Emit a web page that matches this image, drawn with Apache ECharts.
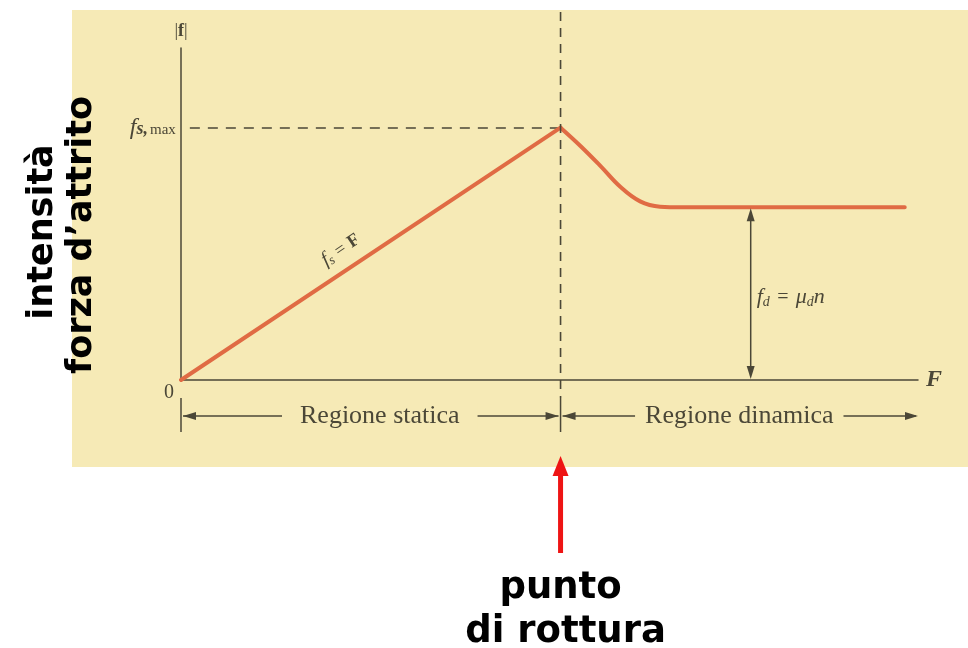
<!DOCTYPE html>
<html>
<head>
<meta charset="utf-8">
<script src="https://cdn.jsdelivr.net/npm/echarts@6/dist/echarts.min.js"></script>
<style>
  html, body { margin: 0; padding: 0; background: #ffffff; }
  #chart { width: 968px; height: 648px; }
</style>
</head>
<body>
<div id="chart"></div>
<script>
// forza applicata F e intensità |f| in unità relative (0..100)
var staticLine = [[0, 0], [51.5, 76]];
var dynamicLine = [[51.5, 76], [54.2, 70.5], [56.9, 64.5], [59.6, 58.2], [62.3, 53.8], [65, 52.2], [68, 52], [98.2, 52]];
var breakX = 51.5;
var fsMax = 76;
var fdLevel = 52;
var fdArrowX = 77.3;
var axisMax = [100, 100];
var regionLabels = ['Regione statica', 'Regione dinamica'];
var sideTitle = ['intensità', 'forza d\u2019attrito'];
var breakTitle = ['punto', 'di rottura'];

var ink = '#4b4737';
var beige = '#f6eab6';
var curve = '#e06b44';
var serif = '"Liberation Serif", "DejaVu Serif", serif';
var sans = '"DejaVu Sans", sans-serif';

var chart = echarts.init(document.getElementById('chart'));
chart.setOption({
  animation: false,
  backgroundColor: '#ffffff',
  grid: { left: 181, top: 48, width: 737, height: 332 },
  xAxis: {
    type: 'value', min: 0, max: axisMax[0],
    name: 'F', nameLocation: 'end', nameGap: 8,
    nameTextStyle: { fontFamily: serif, fontStyle: 'italic', fontWeight: 'bold', fontSize: 24, color: ink, verticalAlign: 'middle' },
    axisLine: { lineStyle: { color: ink, width: 1.5 } },
    axisTick: { show: false }, axisLabel: { show: false }, splitLine: { show: false }
  },
  yAxis: {
    type: 'value', min: 0, max: axisMax[1],
    name: '{n||}{b|f}{n||}', nameLocation: 'end', nameGap: 8,
    nameTextStyle: {
      rich: {
        n: { fontFamily: serif, fontSize: 18, color: ink },
        b: { fontFamily: serif, fontSize: 18, fontWeight: 'bold', color: ink }
      }
    },
    axisLine: { lineStyle: { color: ink, width: 1.5 } },
    axisTick: { show: false }, axisLabel: { show: false }, splitLine: { show: false }
  },
  series: [
    {
      type: 'line', data: staticLine, symbol: 'none', z: 5,
      lineStyle: { color: curve, width: 4, cap: 'round' },
      markLine: {
        silent: true, symbol: 'none', animation: false,
        lineStyle: { color: ink, width: 1.5, type: [10, 8] },
        label: {
          position: 'start', distance: 14,
          formatter: '{i|f}{s|s,}{m|max}',
          rich: {
            i: { fontFamily: serif, fontStyle: 'italic', fontSize: 24, color: ink },
            s: { fontFamily: serif, fontStyle: 'italic', fontWeight: 'bold', fontSize: 18, color: ink, padding: [4, 2, 0, 0] },
            m: { fontFamily: serif, fontSize: 15, color: ink, padding: [4, 0, 0, 0] }
          }
        },
        data: [[{ coord: [1.2, fsMax] }, { coord: [breakX, fsMax] }]]
      }
    },
    {
      type: 'line', data: dynamicLine, symbol: 'none', z: 5,
      smooth: 0.4,
      lineStyle: { color: curve, width: 4, cap: 'round' }
    }
  ]
});

var px = function (p) { return chart.convertToPixel({ gridIndex: 0 }, p); };
var o = px([0, 0]);
var pk = px([breakX, fsMax]);
var xEnd = px([axisMax[0], 0]);
var flat = px([fdArrowX, fdLevel]);

function head(x, y, ang, len, w, color) {
  var c = Math.cos(ang), s = Math.sin(ang);
  return {
    type: 'polygon', z: 20,
    shape: { points: [[x, y], [x - len * c + w * s, y - len * s - w * c], [x - len * c - w * s, y - len * s + w * c]] },
    style: { fill: color }
  };
}
function seg(x1, y1, x2, y2, w, color, dash) {
  return {
    type: 'line', z: 15,
    shape: { x1: x1, y1: y1, x2: x2, y2: y2 },
    style: { stroke: color, lineWidth: w, lineDash: dash || null }
  };
}
function txt(x, y, text, font, opts) {
  var st = { text: text, x: 0, y: 0, font: font, fill: ink, align: 'center', verticalAlign: 'middle' };
  for (var k in (opts || {})) st[k] = opts[k];
  return { type: 'text', z: 25, x: x, y: y, style: st };
}

var ry = o[1] + 36;
var els = [];
els.push({ type: 'rect', z: -10, shape: { x: 72, y: 10, width: 896, height: 457 }, style: { fill: beige } });
// linea tratteggiata verticale al punto di rottura
els.push(seg(pk[0], 12, pk[0], o[1] + 18, 1.6, ink, [9, 7]));
// frecce delle regioni
els.push(seg(o[0], o[1] + 18, o[0], o[1] + 52, 1.5, ink));
els.push(seg(pk[0], o[1] + 18, pk[0], o[1] + 52, 1.5, ink));
els.push(seg(o[0] + 2, ry, pk[0] - 2, ry, 1.5, ink));
els.push(seg(pk[0] + 2, ry, xEnd[0] - 2, ry, 1.5, ink));
els.push(head(o[0] + 2, ry, Math.PI, 13, 4, ink));
els.push(head(pk[0] - 2, ry, 0, 13, 4, ink));
els.push(head(pk[0] + 2, ry, Math.PI, 13, 4, ink));
els.push(head(xEnd[0], ry, 0, 13, 4, ink));
els.push(txt((o[0] + pk[0]) / 2 + 9, ry, regionLabels[0], '26px ' + serif, { backgroundColor: beige, padding: [0, 18] }));
els.push(txt((pk[0] + xEnd[0]) / 2, ry, regionLabels[1], '26px ' + serif, { backgroundColor: beige, padding: [0, 10] }));
// freccia doppia f_d
els.push(seg(flat[0], flat[1] + 10, flat[0], o[1] - 10, 1.5, ink));
els.push(head(flat[0], flat[1] + 1, -Math.PI / 2, 13, 4, ink));
els.push(head(flat[0], o[1] - 1, Math.PI / 2, 13, 4, ink));
els.push({
  type: 'text', z: 25, x: flat[0] + 6, y: (flat[1] + o[1]) / 2 + 4,
  style: {
    text: '{i|f}{s|d} {e|=} {i|\u03bc}{s|d}{i|n}', fill: ink, align: 'left', verticalAlign: 'middle',
    rich: {
      i: { fontFamily: serif, fontStyle: 'italic', fontSize: 22, fill: ink },
      s: { fontFamily: serif, fontStyle: 'italic', fontSize: 14, fill: ink, padding: [9, 0, 0, 0] },
      e: { fontFamily: serif, fontSize: 20, fill: ink, padding: [0, 4] }
    }
  }
});
// etichette
els.push(txt(o[0] - 12, o[1] + 13, '0', '20px ' + serif));
var ang = Math.atan2(pk[1] - o[1], pk[0] - o[0]);
var t = 0.45;
var lx = o[0] + t * (pk[0] - o[0]) + 20 * Math.sin(ang);
var ly = o[1] + t * (pk[1] - o[1]) - 20 * Math.cos(ang);
els.push({
  type: 'text', z: 25, x: lx, y: ly, rotation: -ang,
  style: {
    text: '{i|f}{s|s} {e|=} {b|F}', align: 'center', verticalAlign: 'middle',
    rich: {
      i: { fontFamily: serif, fontStyle: 'italic', fontSize: 20, fill: ink },
      s: { fontFamily: serif, fontStyle: 'italic', fontSize: 13, fill: ink, padding: [8, 0, 0, 0] },
      e: { fontFamily: serif, fontSize: 18, fill: ink, padding: [0, 2] },
      b: { fontFamily: serif, fontWeight: 'bold', fontSize: 18, fill: ink }
    }
  }
});
// titolo laterale ruotato
els.push({ type: 'text', z: 25, x: 43, y: 232, rotation: Math.PI / 2,
  style: { text: sideTitle[0], x: 0, y: 0, font: 'bold 35px ' + sans, fill: '#000', align: 'center', verticalAlign: 'middle' } });
els.push({ type: 'text', z: 25, x: 82, y: 235, rotation: Math.PI / 2,
  style: { text: sideTitle[1], x: 0, y: 0, font: 'bold 35px ' + sans, fill: '#000', align: 'center', verticalAlign: 'middle' } });
// freccia rossa e testo in basso
els.push(seg(pk[0], 553, pk[0], 470, 5, '#ee1414'));
els.push(head(pk[0], 456, -Math.PI / 2, 20, 8, '#ee1414'));
els.push({ type: 'text', z: 25, x: pk[0], y: 588,
  style: { text: breakTitle[0], x: 0, y: 0, font: 'bold 37px ' + sans, fill: '#000', align: 'center', verticalAlign: 'middle' } });
els.push({ type: 'text', z: 25, x: pk[0] + 5, y: 632,
  style: { text: breakTitle[1], x: 0, y: 0, font: 'bold 37px ' + sans, fill: '#000', align: 'center', verticalAlign: 'middle' } });

chart.setOption({ graphic: { elements: els } });
</script>
</body>
</html>
